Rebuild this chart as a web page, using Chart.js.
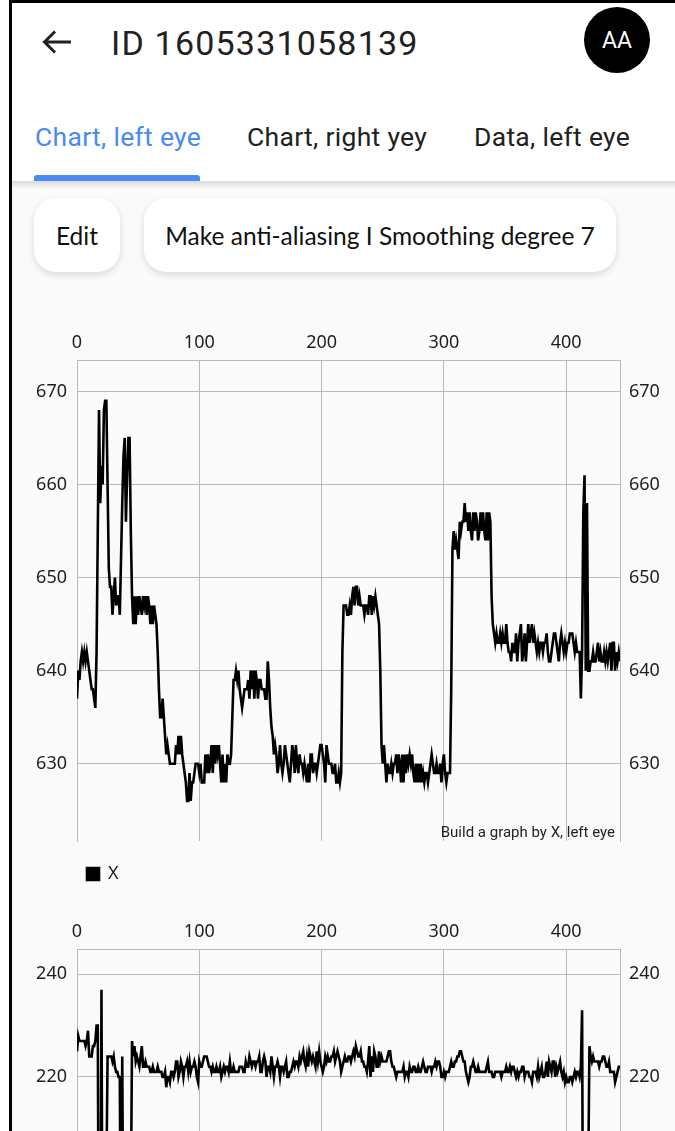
<!DOCTYPE html>
<html>
<head>
<meta charset="utf-8">
<script src="https://cdn.jsdelivr.net/npm/chart.js@4.4.1/dist/chart.umd.min.js"></script>
<style>
  html, body { margin: 0; padding: 0; width: 675px; height: 1131px; overflow: hidden; background: #ffffff; }
  #app { position: relative; width: 675px; height: 1131px; overflow: hidden; background: #fafafa; font-family: Roboto, sans-serif; }
  .header { position: absolute; left: 0; top: 0; width: 675px; height: 181px; background: #ffffff; }
  .back { position: absolute; left: 0; top: 0; }
  .title { position: absolute; left: 111px; top: 19px; height: 48px; line-height: 48px; font-size: 34px; color: #212121; letter-spacing: 1.2px; white-space: nowrap; }
  .avatar { position: absolute; left: 584px; top: 7px; width: 66px; height: 66px; border-radius: 50%; background: #000; color: #fff;
            font-size: 23px; display: flex; align-items: center; justify-content: center; }
  .tab { position: absolute; top: 117px; height: 40px; line-height: 40px; font-size: 26.5px; color: #212121; white-space: nowrap; letter-spacing: 0.3px; }
  .tab.active { color: #4a8af4; }
  .indicator { position: absolute; left: 34px; top: 175px; width: 166px; height: 6px; background: #4a8af4; border-radius: 3px 3px 0 0; }
  .shadow { position: absolute; left: 0; top: 181px; width: 675px; height: 8px; background: linear-gradient(rgba(0,0,0,0.13), rgba(0,0,0,0)); }
  .btn { position: absolute; top: 198px; height: 74px; border-radius: 22px; background: #fff; box-shadow: 0 3px 7px rgba(0,0,0,0.13);
         display: flex; align-items: center; justify-content: center; font-family: Lato, sans-serif; font-size: 24.5px; color: #111; white-space: nowrap; }
  canvas { position: absolute; left: 0; }
  #chartX { top: 300px; }
  #chartY { top: 889px; }
  .frame-left { position: absolute; left: 9px; top: 0; width: 3px; height: 1131px; background: #000; }
  .frame-top { position: absolute; left: 9px; top: 0; width: 666px; height: 3px; background: #000; }
  .edge { position: absolute; left: 0; top: 0; width: 9px; height: 1131px; background: #fff; }
</style>
</head>
<body>
<div id="app">
  <div class="header">
    <svg class="back" width="100" height="90" viewBox="0 0 100 90">
      <path d="M71 42 H45 M55 31.5 L44.5 42 L55 52.5" stroke="#212121" stroke-width="3" fill="none"/>
    </svg>
    <div class="title">ID 1605331058139</div>
    <div class="avatar">AA</div>
    <div class="tab active" style="left:35px">Chart, left eye</div>
    <div class="tab" style="left:247px">Chart, right yey</div>
    <div class="tab" style="left:474px">Data, left eye</div>
    <div class="indicator"></div>
  </div>
  <div class="shadow"></div>
  <div class="btn" style="left:34px;width:86px">Edit</div>
  <div class="btn" style="left:144px;width:472px">Make anti-aliasing I Smoothing degree 7</div>
  <canvas id="chartX" width="675" height="600"></canvas>
  <canvas id="chartY" width="675" height="600"></canvas>
  <div class="edge"></div>
  <div class="frame-left"></div>
  <div class="frame-top"></div>
</div>
<script>
// Gaze samples for the left eye, one value per frame index.
const seriesXName = 'X';
const seriesX = [
  637,640,639,641,642,641,642,641,642,641,
  640,639,638,638,637,636,642,655,668,658,
  662,660,668,669,669,660,651,649,649,646,
  648,650,647,648,648,646,652,658,663,665,
  656,661,665,665,655,648,645,648,645,648,
  646,648,647,646,648,647,648,646,648,647,
  645,647,645,647,646,645,642,638,635,635,
  637,635,633,631,632,631,630,630,630,630,
  630,632,631,633,631,633,631,630,629,628,
  626,626,629,626,628,628,629,630,630,630,
  629,630,628,628,628,631,629,631,629,630,
  632,629,632,630,632,631,632,630,628,631,
  628,630,628,631,630,630,631,635,639,639,
  640,639,640,638,637,636,637,638,638,638,
  639,637,640,638,640,637,640,639,637,639,
  639,638,638,638,637,637,641,639,636,634,
  633,631,632,631,629,630,632,630,629,630,
  632,631,630,629,628,630,632,631,629,632,
  630,629,631,630,630,629,630,629,628,630,
  628,631,631,629,630,630,629,630,631,632,
  632,631,630,628,632,631,630,630,630,629,
  629,630,628,628,629,628,629,642,647,647,
  647,646,646,647,646,648,649,647,649,649,
  647,648,647,647,647,646,647,647,646,648,
  648,646,648,647,648,647,646,645,640,632,
  630,632,630,628,630,629,629,630,629,630,
  630,631,629,631,630,628,631,628,631,629,
  631,630,631,630,631,629,628,630,628,630,
  628,630,628,629,628,629,629,628,629,630,
  631,630,629,629,630,629,629,630,628,630,
  631,629,628,629,629,629,638,653,655,653,
  654,653,652,656,655,656,656,658,656,657,
  655,657,655,654,657,655,657,656,654,655,
  657,655,657,655,654,657,654,657,656,648,
  645,644,643,644,643,643,644,643,644,643,
  643,645,643,642,642,641,643,642,642,644,
  641,643,644,645,641,642,644,641,643,645,
  643,644,645,643,644,643,642,643,642,643,
  643,642,643,643,644,642,641,641,642,643,
  644,644,643,642,641,643,644,643,642,643,
  642,643,643,644,644,644,643,642,643,642,
  642,642,637,642,657,661,640,658,640,640,
  641,641,642,641,641,642,643,641,642,641,
  641,642,641,642,641,642,643,640,643,643,
  640,642,641,642,641
];

const seriesYName = 'Y';
const seriesY = [
  225,228,227,227,227,227,227,226,227,229,
  224,224,224,226,226,227,230,230,166,159,
  237,170,165,180,200,224,224,224,224,223,
  224,222,221,221,220,220,175,224,180,170,
  175,185,180,175,195,227,224,226,223,224,
  223,222,224,226,222,222,223,222,222,222,
  221,221,222,221,221,221,222,221,221,221,
  220,220,221,218,220,220,219,221,221,220,
  221,223,223,220,221,223,222,220,222,222,
  223,221,223,221,222,222,223,222,220,219,
  223,222,222,223,224,224,224,223,222,222,
  221,222,221,221,222,221,221,222,220,221,
  222,221,222,222,221,223,221,221,222,221,
  221,221,221,222,222,222,221,221,223,222,
  222,224,223,222,223,223,222,223,223,224,
  221,221,223,224,223,220,222,222,221,224,
  222,220,222,222,223,222,220,222,222,221,
  222,223,220,220,221,221,222,223,222,223,
  223,222,224,223,224,225,223,222,224,222,
  225,224,223,224,223,222,225,223,225,223,
  222,221,222,224,223,224,223,223,224,224,
  225,223,224,225,224,223,221,222,223,224,
  223,223,224,224,223,224,225,224,226,225,
  224,224,225,223,223,222,222,221,223,226,
  220,224,221,225,224,222,222,225,223,224,
  223,223,223,223,224,225,225,223,222,222,
  221,220,221,221,221,221,221,222,220,221,
  221,220,222,221,221,222,222,221,221,222,
  221,221,222,223,222,221,221,222,222,222,
  221,222,222,223,222,223,223,222,220,220,
  221,220,221,221,221,222,223,222,222,223,
  223,224,224,225,225,224,223,223,221,220,
  219,220,222,222,223,222,221,221,222,221,
  221,221,221,221,221,222,223,221,221,221,
  220,220,221,221,221,221,221,220,221,221,
  221,222,221,221,222,221,222,222,221,220,
  221,220,221,221,222,222,220,221,221,221,
  220,220,219,221,221,221,220,222,220,221,
  222,220,220,221,223,220,223,222,221,223,
  223,220,222,221,222,223,221,220,221,219,
  220,219,219,220,220,219,220,221,220,221,
  221,220,222,233,170,165,170,175,200,226,
  224,223,224,223,223,223,223,222,223,223,
  224,224,223,222,222,223,221,221,221,221,
  219,220,221,222,222
];

// Tick values for the frame axis and the two value axes.
const frameTicks = [0, 100, 200, 300, 400];
const ticksX = [630, 640, 650, 660, 670];
const ticksY = [160, 180, 200, 220, 240];

const captionX = 'Build a graph by X, left eye';
const captionY = 'Build a graph by Y, left eye';

Chart.defaults.font.family = "'Noto Sans', sans-serif";
Chart.defaults.color = '#1e1e1e';

const GRID = '#b9b9b9';

// Small caption in the lower right corner of the plot.
const captionPlugin = {
  id: 'cornerCaption',
  afterDraw(chart, args, opts) {
    const { ctx, chartArea } = chart;
    ctx.save();
    ctx.font = "15px Roboto, sans-serif";
    ctx.fillStyle = '#222';
    ctx.textAlign = 'right';
    ctx.textBaseline = 'alphabetic';
    ctx.fillText(opts.text, chartArea.right - 5, chartArea.bottom - 4);
    ctx.restore();
  }
};

function buildChart(canvasId, name, values, valueTicks, caption) {
  // Value range padded by 10% of the data span on each side.
  const lo = Math.min(...values);
  const hi = Math.max(...values);
  const span = hi - lo;
  const yMin = lo - span * 0.1;
  const yMax = hi + span * 0.1;
  const points = values.map((v, i) => ({ x: i, y: v }));
  const setTicks = (list) => (scale) => { scale.ticks = list.map(v => ({ value: v })); };

  const valueAxis = (position, show, pad) => ({
    type: 'linear',
    position,
    min: yMin,
    max: yMax,
    afterBuildTicks: setTicks(valueTicks),
    afterFit: (s) => { s.width = position === 'left' ? 77 : 55; },
    grid: { display: show, color: GRID, lineWidth: 1, drawTicks: false },
    border: { display: true, color: GRID, width: 1 },
    ticks: { padding: pad, font: { size: 18 }, color: '#1e1e1e' }
  });

  return new Chart(document.getElementById(canvasId), {
    type: 'line',
    data: {
      datasets: [{
        label: name,
        data: points,
        borderColor: '#000',
        backgroundColor: '#000',
        borderWidth: 2.6,
        pointRadius: 0,
        tension: 0,
        yAxisID: 'y'
      }]
    },
    options: {
      responsive: false,
      animation: false,
      devicePixelRatio: 1,
      layout: { padding: { left: 0, right: 0, top: 0, bottom: 7 } },
      scales: {
        x: {
          type: 'linear',
          position: 'top',
          min: 0,
          max: values.length - 1,
          afterBuildTicks: setTicks(frameTicks),
          afterFit: (s) => { s.height = 60.7; },
          grid: { color: GRID, lineWidth: 1, drawTicks: false },
          border: { display: true, color: GRID, width: 1 },
          ticks: { padding: 7, font: { size: 18 }, color: '#1e1e1e', maxRotation: 0 }
        },
        gap: {
          type: 'linear',
          position: 'bottom',
          display: true,
          afterFit: (s) => { s.height = 14; },
          grid: { display: false, drawTicks: false },
          border: { display: false },
          ticks: { display: false }
        },
        y: valueAxis('left', true, 10),
        yRight: valueAxis('right', false, 9)
      },
      plugins: {
        legend: {
          display: true,
          position: 'bottom',
          align: 'start',
          fullSize: false,
          labels: { boxWidth: 12, boxHeight: 12, padding: 10, color: '#1e1e1e', font: { size: 18 } }
        },
        tooltip: { enabled: false },
        cornerCaption: { text: caption }
      }
    },
    plugins: [captionPlugin]
  });
}

buildChart('chartX', seriesXName, seriesX, ticksX, captionX);
buildChart('chartY', seriesYName, seriesY, ticksY, captionY);
</script>
</body>
</html>
